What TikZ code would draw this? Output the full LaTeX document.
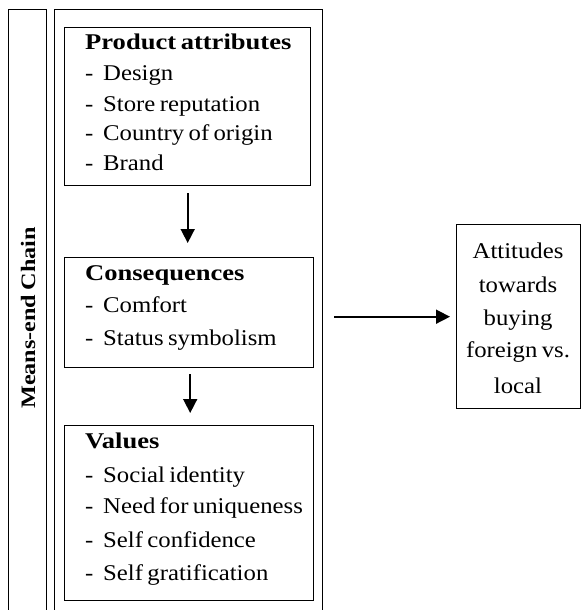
\documentclass[tikz,border=0pt]{standalone}
\usepackage{fontspec}
\setmainfont{Liberation Serif}[FakeStretch=1.1,WordSpace=0.7,BoldFeatures={FakeStretch=1.18}]
\usetikzlibrary{arrows.meta}
\newcommand\itm[1]{\makebox[18pt][l]{-}#1}
\tikzset{
  box/.style={draw, line width=1.4pt, anchor=north west, inner sep=0pt},
  txt/.style={anchor=base west, inner sep=0pt, font=\fontsize{22.5}{26}\selectfont},
  head/.style={txt, font=\fontsize{22.5}{26}\selectfont\bfseries},
  ctr/.style={anchor=base, inner sep=0pt, font=\fontsize{22.5}{26}\selectfont},
  arr/.style={line width=1.6pt, -{Triangle[width=14pt,length=14pt]}}
}
\begin{document}
\begin{tikzpicture}[x=1pt,y=-1pt]
\useasboundingbox (0,0) rectangle (581,610);
% frames running off the bottom
\node[box, minimum width=38pt, minimum height=606pt] (side) at (8,9) {};
\node[box, minimum width=268pt, minimum height=606pt] (big) at (54,9) {};
\node[rotate=90, inner sep=0pt, font=\fontsize{20.5}{24}\selectfont\bfseries] (mec) at (28,318) {Means-end Chain};
% boxes
\node[box, minimum width=246pt, minimum height=158pt] (prod) at (64,27) {};
\node[box, minimum width=249pt, minimum height=110pt] (cons) at (64,257) {};
\node[box, minimum width=249pt, minimum height=175pt] (vals) at (64,425) {};
\node[box, minimum width=124pt, minimum height=184pt] (att) at (456,224) {};
% texts
\node[head] (ph) at (85,50) {Product attributes};
\foreach \t/\y [count=\i] in {Design/81, Store reputation/111, Country of origin/140, Brand/170}
  \node[txt] (p\i) at (85,\y) {\itm{\t}};
\node[head] (ch) at (85,280) {Consequences};
\foreach \t/\y [count=\i] in {Comfort/312, Status symbolism/345}
  \node[txt] (c\i) at (85,\y) {\itm{\t}};
\node[head] (vh) at (85,448) {Values};
\foreach \t/\y [count=\i] in {Social identity/482, Need for uniqueness/513, Self confidence/547, Self gratification/580}
  \node[txt] (v\i) at (85,\y) {\itm{\t}};
\foreach \t/\y [count=\i] in {Attitudes/258, towards/292, buying/325, foreign vs./357, local/393}
  \node[ctr] (a\i) at (518,\y) {\t};
% arrows
\draw[arr, shorten <=7pt, shorten >=14pt] (prod.south) -- (prod.south |- cons.north);
\draw[arr, shorten <=6pt, shorten >=12pt] ([xshift=1pt]cons.south) -- ([xshift=1pt]vals.north);
\draw[arr, shorten <=11pt, shorten >=6pt] (att.west -| big.east) -- (att.west);
\end{tikzpicture}
\end{document}
